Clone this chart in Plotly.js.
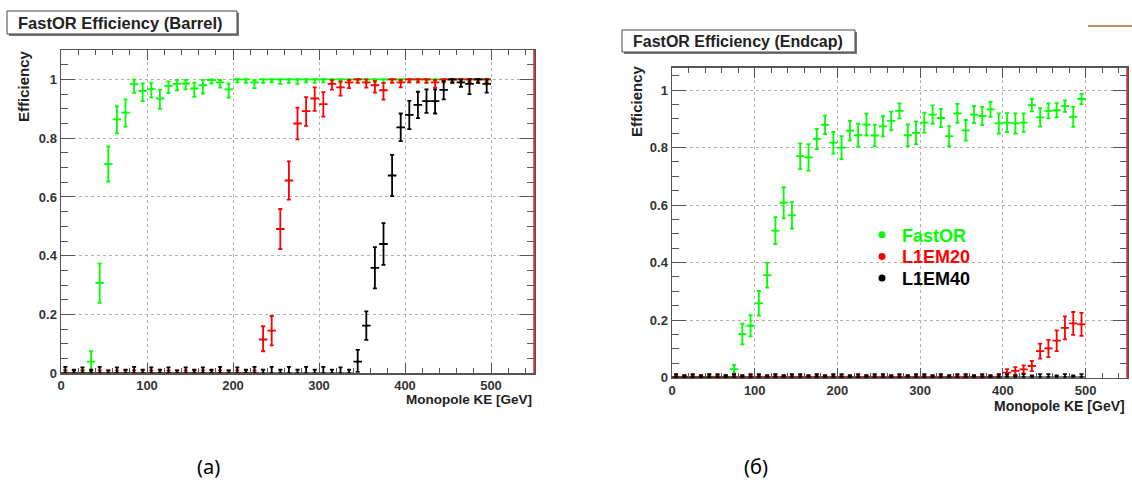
<!DOCTYPE html>
<html>
<head>
<meta charset="utf-8">
<script src="https://cdn.plot.ly/plotly-3.0.1.min.js"></script>
<style>html,body{margin:0;padding:0;background:#fff;}#chart{width:1132px;height:480px;}</style>
</head>
<body>
<div id="chart"></div>
<script>
// ---------- DATA ----------
const binCenters = [5,15,25,35,45,55,65,75,85,95,105,115,125,135,145,155,165,175,185,195,205,215,225,235,245,255,265,275,285,295,305,315,325,335,345,355,365,375,385,395,405,415,425,435,445,455,465,475,485,495];
const binHalfWidth = 5;
const seriesNames = ['FastOR', 'L1EM20', 'L1EM40'];
const panelTitles = ['FastOR Efficiency (Barrel)', 'FastOR Efficiency (Endcap)'];
const xTitle = 'Monopole KE [GeV]';
const yTitle = 'Efficiency';
const captions = ['(a)', '(б)'];

// Barrel
const barrelFastOR = [0,0,0,0.04,0.308,0.712,0.864,0.887,0.984,0.961,0.967,0.935,0.978,0.985,0.986,0.969,0.98,0.998,0.99,0.966,1,1,0.99,1,1,1,1,1,1,1,1,1,1,1,1,1,1,1,1,1,1,1,1,1,1,1,1,1,1,1];
const barrelFastORUp = [0.01,0.01,0.01,0.035,0.065,0.06,0.045,0.045,0.015,0.025,0.022,0.03,0.015,0.013,0.012,0.02,0.018,0.002,0.008,0.02,0,0,0.008,0,0,0,0,0,0,0,0,0,0,0,0,0,0,0,0,0,0,0,0,0,0,0,0,0,0,0];
const barrelFastORDown = [0,0,0,0.035,0.068,0.06,0.048,0.048,0.03,0.035,0.028,0.035,0.025,0.022,0.02,0.028,0.028,0.012,0.018,0.028,0.01,0.012,0.02,0.012,0.01,0.015,0.012,0.015,0.01,0.012,0.01,0.012,0.01,0.012,0.01,0.012,0.01,0.012,0.01,0.01,0.01,0.01,0.01,0.01,0.01,0.01,0.01,0.01,0.01,0.01];

const barrelL1EM20 = [0,0,0,0,0,0,0,0,0,0,0,0,0,0,0,0,0,0,0,0,0,0,0,0.115,0.145,0.491,0.656,0.85,0.892,0.935,0.916,0.985,0.973,0.99,1,0.99,0.98,0.963,1,0.99,1,1,1,0.99,1,1,1,1,1,1];
const barrelL1EM20Up = [0.01,0.01,0.01,0.01,0.01,0.01,0.01,0.01,0.01,0.01,0.01,0.01,0.01,0.01,0.01,0.01,0.01,0.01,0.01,0.01,0.01,0.01,0.01,0.045,0.05,0.068,0.065,0.054,0.048,0.038,0.041,0.012,0.02,0.008,0,0.01,0.015,0.025,0,0.008,0,0,0,0.008,0,0,0,0,0,0];
const barrelL1EM20Down = [0,0,0,0,0,0,0,0,0,0,0,0,0,0,0,0,0,0,0,0,0,0,0,0.04,0.05,0.068,0.065,0.054,0.05,0.042,0.043,0.02,0.028,0.02,0.012,0.018,0.025,0.032,0.012,0.017,0.01,0.01,0.012,0.018,0.01,0.01,0.01,0.01,0.01,0.01];

const barrelL1EM40 = [0,0,0,0,0,0,0,0,0,0,0,0,0,0,0,0,0,0,0,0,0,0,0,0,0,0,0,0,0,0,0,0,0,0,0.04,0.162,0.359,0.44,0.673,0.837,0.879,0.913,0.926,0.926,0.964,1,0.99,0.985,1,0.985];
const barrelL1EM40Up = [0.022,0.012,0.02,0.012,0.022,0.01,0.02,0.012,0.022,0.012,0.02,0.012,0.02,0.01,0.02,0.012,0.02,0.012,0.022,0.01,0.02,0.012,0.022,0.012,0.022,0.012,0.022,0.012,0.022,0.012,0.022,0.012,0.02,0.012,0.04,0.049,0.07,0.071,0.07,0.047,0.048,0.045,0.04,0.04,0.03,0,0.01,0.015,0,0.015];
const barrelL1EM40Down = [0,0,0,0,0,0,0,0,0,0,0,0,0,0,0,0,0,0,0,0,0,0,0,0,0,0,0,0,0,0,0,0,0,0,0.035,0.048,0.07,0.071,0.07,0.047,0.048,0.045,0.04,0.042,0.032,0.012,0.015,0.035,0.012,0.03];

// Endcap
const endcapFastOR = [0,0,0,0,0,0,0,0.029,0.151,0.18,0.258,0.356,0.511,0.608,0.564,0.77,0.766,0.83,0.879,0.817,0.80,0.859,0.843,0.88,0.842,0.874,0.893,0.928,0.843,0.851,0.887,0.915,0.903,0.84,0.919,0.86,0.915,0.91,0.933,0.884,0.887,0.884,0.887,0.948,0.905,0.928,0.93,0.944,0.907,0.969];
const endcapFastORUp = [0.01,0.008,0.01,0.008,0.01,0.008,0.01,0.015,0.036,0.037,0.043,0.043,0.047,0.054,0.046,0.045,0.046,0.035,0.032,0.038,0.04,0.034,0.04,0.038,0.038,0.035,0.032,0.026,0.038,0.04,0.035,0.032,0.032,0.035,0.033,0.036,0.03,0.032,0.026,0.035,0.033,0.035,0.032,0.022,0.032,0.026,0.025,0.02,0.035,0.018];
const endcapFastORDown = [0,0,0,0,0,0,0,0.015,0.036,0.037,0.043,0.043,0.047,0.054,0.046,0.045,0.046,0.035,0.032,0.038,0.04,0.034,0.04,0.038,0.038,0.035,0.032,0.026,0.038,0.04,0.035,0.032,0.032,0.035,0.033,0.036,0.03,0.032,0.026,0.035,0.033,0.035,0.032,0.022,0.032,0.026,0.025,0.02,0.035,0.018];

const endcapL1EM20 = [0,0,0,0,0,0,0,0,0,0,0,0,0,0,0,0,0,0,0,0,0,0,0,0,0,0,0,0,0,0,0,0,0,0,0,0,0,0,0,0,0.017,0.023,0.028,0.04,0.092,0.101,0.128,0.173,0.188,0.185];
const endcapL1EM20Up = [0.008,0.008,0.008,0.008,0.008,0.008,0.008,0.008,0.008,0.008,0.008,0.008,0.008,0.008,0.008,0.008,0.008,0.008,0.008,0.008,0.008,0.008,0.008,0.008,0.008,0.008,0.008,0.008,0.008,0.008,0.008,0.008,0.008,0.008,0.008,0.008,0.008,0.008,0.008,0.008,0.012,0.013,0.014,0.018,0.026,0.03,0.036,0.04,0.04,0.04];
const endcapL1EM20Down = [0,0,0,0,0,0,0,0,0,0,0,0,0,0,0,0,0,0,0,0,0,0,0,0,0,0,0,0,0,0,0,0,0,0,0,0,0,0,0,0,0.012,0.013,0.014,0.018,0.026,0.03,0.036,0.04,0.04,0.04];

const endcapL1EM40 = [0,0,0,0,0,0,0,0,0,0,0,0,0,0,0,0,0,0,0,0,0,0,0,0,0,0,0,0,0,0,0,0,0,0,0,0,0,0,0,0,0,0,0,0,0,0,0,0,0,0];
const endcapL1EM40Up = [0.012,0.007,0.012,0.007,0.012,0.012,0.007,0.012,0.007,0.012,0.012,0.007,0.012,0.007,0.012,0.012,0.007,0.012,0.007,0.012,0.012,0.007,0.012,0.007,0.012,0.012,0.007,0.012,0.007,0.012,0.012,0.007,0.012,0.007,0.012,0.012,0.007,0.012,0.007,0.012,0.012,0.007,0.012,0.007,0.012,0.012,0.007,0.012,0.007,0.012];
const endcapL1EM40Down = [0,0,0,0,0,0,0,0,0,0,0,0,0,0,0,0,0,0,0,0,0,0,0,0,0,0,0,0,0,0,0,0,0,0,0,0,0,0,0,0,0,0,0,0,0,0,0,0,0,0];

// ---------- STYLE ----------
const colors = ['#00ff00', '#ff0000', '#000000'];
const FONT = 'Liberation Sans, Arial, Helvetica, sans-serif';
const W = 1132, H = 480;
const px = v => v / W;
const py = v => (H - v) / H;

function mkTrace(y, up, down, ci, xa, ya) {
  return {
    type: 'scatter', mode: 'markers',
    x: binCenters, y: y,
    xaxis: xa, yaxis: ya,
    showlegend: false, hoverinfo: 'x+y',
    marker: {color: colors[ci], size: 2.5, symbol: 'circle'},
    error_y: {type: 'data', symmetric: false, array: up, arrayminus: down, color: colors[ci], thickness: 1.8, width: 2},
    error_x: {type: 'constant', value: binHalfWidth, color: colors[ci], thickness: 1.8, width: 0}
  };
}

const traces = [
  mkTrace(barrelFastOR, barrelFastORUp, barrelFastORDown, 0, 'x', 'y'),
  mkTrace(barrelL1EM20, barrelL1EM20Up, barrelL1EM20Down, 1, 'x', 'y'),
  mkTrace(barrelL1EM40, barrelL1EM40Up, barrelL1EM40Down, 2, 'x', 'y'),
  mkTrace(endcapFastOR, endcapFastORUp, endcapFastORDown, 0, 'x2', 'y2'),
  mkTrace(endcapL1EM20, endcapL1EM20Up, endcapL1EM20Down, 1, 'x2', 'y2'),
  mkTrace(endcapL1EM40, endcapL1EM40Up, endcapL1EM40Down, 2, 'x2', 'y2')
];
// legend entries (legend-only), one small legend per entry so rows sit tight
const legendIds = ['legend', 'legend2', 'legend3'];
seriesNames.forEach((n, i) => {
  traces.push({
    type: 'scatter', mode: 'markers', x: [null], y: [null], xaxis: 'x2', yaxis: 'y2',
    name: n, legend: legendIds[i],
    marker: {color: colors[i], size: 7}, showlegend: true
  });
});

const axisLine = '#555';
function xAx(domain, anchor) {
  return {
    domain: domain, anchor: anchor, range: [0, 550], autorange: false,
    tick0: 0, dtick: 100, ticks: 'inside', ticklen: 10, tickwidth: 1, tickcolor: axisLine,
    minor: {dtick: 20, ticks: 'inside', ticklen: 5, tickwidth: 1, tickcolor: axisLine, showgrid: false},
    showline: true, linecolor: axisLine, linewidth: 1.5, mirror: 'ticks',
    showgrid: true, gridcolor: '#b0b0b0', griddash: 'dot', gridwidth: 1,
    zeroline: false, fixedrange: true,
    tickfont: {family: FONT, size: 13, color: '#333', weight: 'bold'}
  };
}
function yAx(domain, anchor, top) {
  return {
    domain: domain, anchor: anchor, range: [0, top], autorange: false,
    tick0: 0, dtick: 0.2, ticks: 'inside', ticklen: 14, tickwidth: 1, tickcolor: axisLine,
    minor: {dtick: 0.05, ticks: 'inside', ticklen: 7, tickwidth: 1, tickcolor: axisLine, showgrid: false},
    showline: true, linecolor: axisLine, linewidth: 1.5, mirror: 'ticks',
    showgrid: true, gridcolor: '#b0b0b0', griddash: 'dot', gridwidth: 1,
    zeroline: false, fixedrange: true,
    tickfont: {family: FONT, size: 13, color: '#333', weight: 'bold'}
  };
}

const boldFont = (s, c) => ({family: FONT, size: s, color: c || '#222', weight: 'bold'});

const annotations = [
  {text: panelTitles[0], xref: 'paper', yref: 'paper', x: px(16), y: py(22.5), xanchor: 'left', yanchor: 'middle', showarrow: false, font: boldFont(16.5)},
  {text: panelTitles[1], xref: 'paper', yref: 'paper', x: px(631), y: py(41), xanchor: 'left', yanchor: 'middle', showarrow: false, font: boldFont(16)},
  {text: yTitle, xref: 'paper', yref: 'paper', x: px(23), y: py(86), textangle: -90, xanchor: 'center', yanchor: 'middle', showarrow: false, font: boldFont(15)},
  {text: yTitle, xref: 'paper', yref: 'paper', x: px(636), y: py(101), textangle: -90, xanchor: 'center', yanchor: 'middle', showarrow: false, font: boldFont(15)},
  {text: xTitle, xref: 'paper', yref: 'paper', x: px(534), y: py(399), xanchor: 'right', yanchor: 'middle', showarrow: false, font: boldFont(13.5)},
  {text: xTitle, xref: 'paper', yref: 'paper', x: px(992), y: py(406), xanchor: 'left', yanchor: 'middle', showarrow: false, font: boldFont(14)},
  {text: captions[0], xref: 'paper', yref: 'paper', x: px(208), y: py(466), xanchor: 'center', yanchor: 'middle', showarrow: false, font: {family: 'Noto Sans, DejaVu Sans, sans-serif', size: 20, color: '#000'}},
  {text: captions[1], xref: 'paper', yref: 'paper', x: px(756), y: py(466), xanchor: 'center', yanchor: 'middle', showarrow: false, font: {family: 'Noto Sans, DejaVu Sans, sans-serif', size: 20, color: '#000'}}
];

const shapes = [
  {type: 'rect', xref: 'paper', yref: 'paper', x0: px(9), x1: px(239), y0: py(36), y1: py(13), line: {width: 0}, fillcolor: '#777', layer: 'below'},
  {type: 'rect', xref: 'paper', yref: 'paper', x0: px(7), x1: px(237), y0: py(34), y1: py(11), line: {color: '#444', width: 1}, fillcolor: '#fff', layer: 'below'},
  {type: 'rect', xref: 'paper', yref: 'paper', x0: px(624), x1: px(857), y0: py(54), y1: py(32), line: {width: 0}, fillcolor: '#777', layer: 'below'},
  {type: 'rect', xref: 'paper', yref: 'paper', x0: px(622), x1: px(855), y0: py(52), y1: py(30), line: {color: '#444', width: 1}, fillcolor: '#fff', layer: 'below'},
  {type: 'line', xref: 'x domain', yref: 'y domain', x0: 1, x1: 1, y0: 0, y1: 1, line: {color: '#e03030', width: 1.5}},
  {type: 'line', xref: 'x2 domain', yref: 'y2 domain', x0: 1, x1: 1, y0: 0, y1: 1, line: {color: '#e03030', width: 1.5}},
  {type: 'line', xref: 'paper', yref: 'paper', x0: px(1088), x1: px(1132), y0: py(26), y1: py(26), line: {color: '#b8682e', width: 1.5}}
];

const legendRowsY = [235, 256.7, 278.3];
function mkLegend(i) {
  return {x: px(862), y: py(legendRowsY[i]), xanchor: 'left', yanchor: 'middle',
          bgcolor: 'rgba(0,0,0,0)', borderwidth: 0, font: boldFont(18, colors[i]), itemsizing: 'trace'};
}

const layout = {
  width: W, height: H,
  margin: {l: 0, r: 0, t: 0, b: 0},
  paper_bgcolor: '#fff', plot_bgcolor: '#fff',
  showlegend: true,
  legend: mkLegend(0), legend2: mkLegend(1), legend3: mkLegend(2),
  xaxis: xAx([px(61), px(534)], 'y'),
  yaxis: yAx([py(373.3), py(50)], 'x', 1.1),
  xaxis2: xAx([px(672), px(1127)], 'y2'),
  yaxis2: yAx([py(377.5), py(67.7)], 'x2', 1.078),
  annotations: annotations,
  shapes: shapes
};

Plotly.newPlot('chart', traces, layout, {displayModeBar: false, staticPlot: true});
</script>
</body>
</html>
